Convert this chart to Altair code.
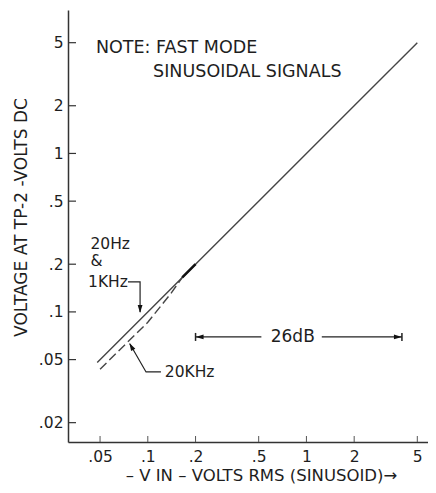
import altair as alt
import pandas as pd

# ---------------- data ----------------
# 20 Hz & 1 kHz response (solid)
solid_x = [0.048, 0.1, 0.2, 0.5, 1.0, 2.0, 5.0]
solid_y = [0.048, 0.1, 0.2, 0.5, 1.0, 2.0, 5.0]
# 20 kHz response (dashed, merges with the solid line near .17)
khz20_x = [0.05, 0.1, 0.14, 0.165]
khz20_y = [0.0435, 0.086, 0.131, 0.165]
# darker overlap segment
overlap_x = [0.165, 0.2]
overlap_y = [0.165, 0.2]

x_ticks = [0.05, 0.1, 0.2, 0.5, 1, 2, 5]
x_tick_labels = [".05", ".1", ".2", ".5", "1", "2", "5"]
y_ticks = [0.02, 0.05, 0.1, 0.2, 0.5, 1, 2, 5]
y_tick_labels = [".02", ".05", ".1", ".2", ".5", "1", "2", "5"]

x_domain = [0.0314, 5.84]
y_domain = [0.0151, 8.04]

x_title = "– V IN – VOLTS RMS (SINUSOID)→"
y_title = "VOLTAGE AT TP-2 -VOLTS DC"

note_text = ["NOTE: FAST MODE", "SINUSOIDAL SIGNALS"]
note_x = [0.0471, 0.108]
note_y = [4.65, 3.28]

ann_text = ["20Hz", "&", "1KHz", "20KHz"]
ann_x = [0.0435, 0.0435, 0.042, 0.128]
ann_y = [0.2685, 0.2096, 0.1546, 0.0418]

db_text = ["26dB"]
db_x = [0.82]
db_y = [0.0695]

# leader / dimension lines
lead_seg = ["1k", "1k", "1k", "20k", "20k", "20k", "dbL", "dbL", "dbR", "dbR"]
lead_x = [0.075, 0.0894, 0.0894, 0.121, 0.0975, 0.0770, 0.2, 0.52, 1.25, 4.0]
lead_y = [0.1546, 0.1546, 0.100, 0.0418, 0.0418, 0.0630, 0.0695, 0.0695, 0.0695, 0.0695]

# arrow tips (x, y, direction in degrees)
head_x = [0.0894, 0.0765, 0.2, 4.0]
head_y = [0.0985, 0.0637, 0.0695, 0.0695]
head_dir = [270, 61, 0, 180]

bar_x = [0.2, 4.0]
bar_y = [0.0695, 0.0695]

# ---------------- styling ----------------
FONT = "DejaVu Sans"
TXT = "#1e1e1e"
LINE = "#454545"


def expr_for(values, labels):
    parts = [f"abs(datum.value - {v}) < 1e-9 ? '{l}'" for v, l in zip(values, labels)]
    return " : ".join(parts) + " : ''"


xscale = alt.Scale(type="log", domain=x_domain, nice=False, zero=False)
yscale = alt.Scale(type="log", domain=y_domain, nice=False, zero=False)

xaxis = alt.Axis(
    values=x_ticks, labelExpr=expr_for(x_ticks, x_tick_labels),
    ticks=False, tickSize=0, grid=False,
    domainColor="#333333", domainWidth=1.5,
    labelFont=FONT, labelFontSize=15.5, labelColor=TXT, labelPadding=7,
    labelFlush=False, labelOverlap=False,
    titleFont=FONT, titleFontSize=16.5, titleFontWeight="normal", titleColor=TXT,
    titleX=193, titleY=33, titleAlign="center", titleBaseline="middle",
)
yaxis = alt.Axis(
    values=y_ticks, labelExpr=expr_for(y_ticks, y_tick_labels),
    ticks=False, tickSize=0, grid=False,
    domainColor="#333333", domainWidth=1.5,
    labelFont=FONT, labelFontSize=15.5, labelColor=TXT, labelPadding=5,
    labelFlush=False, labelOverlap=False,
    titleFont=FONT, titleFontSize=17, titleFontWeight="normal", titleColor=TXT,
    titleAngle=270, titleX=-47, titleY=207, titleAlign="center", titleBaseline="middle",
)


def X():
    return alt.X("x:Q", scale=xscale, axis=xaxis, title=x_title)


def Y():
    return alt.Y("y:Q", scale=yscale, axis=yaxis, title=y_title)


solid_df = pd.DataFrame({"x": solid_x, "y": solid_y})
dash_df = pd.DataFrame({"x": khz20_x, "y": khz20_y})
over_df = pd.DataFrame({"x": overlap_x, "y": overlap_y})
note_df = pd.DataFrame({"x": note_x, "y": note_y, "t": note_text})
ann_df = pd.DataFrame({"x": ann_x, "y": ann_y, "t": ann_text})
db_df = pd.DataFrame({"x": db_x, "y": db_y, "t": db_text})
lead_df = pd.DataFrame({"x": lead_x, "y": lead_y, "seg": lead_seg, "o": list(range(len(lead_x)))})
head_df = pd.DataFrame({"x": head_x, "y": head_y, "a": head_dir})
bar_df = pd.DataFrame({"x": bar_x, "y": bar_y})
xt_df = pd.DataFrame({"x": x_ticks})
yt_df = pd.DataFrame({"y": y_ticks})

solid = alt.Chart(solid_df).mark_line(color=LINE, strokeWidth=1.4).encode(x=X(), y=Y())
dashed = alt.Chart(dash_df).mark_line(color=LINE, strokeWidth=1.4, strokeDash=[9, 4]).encode(x=X(), y=Y())
over = alt.Chart(over_df).mark_line(color="#111111", strokeWidth=2.6).encode(x=X(), y=Y())

xt = alt.Chart(xt_df).mark_rule(color="#555555", strokeWidth=1).encode(
    x=X(), y=alt.value(432), y2=alt.value(426))
yt = alt.Chart(yt_df).mark_rule(color="#333333", strokeWidth=1.2).encode(
    y=Y(), x=alt.value(0), x2=alt.value(8))

leaders = alt.Chart(lead_df).mark_line(color="#222222", strokeWidth=1.2).encode(
    x=X(), y=Y(), detail="seg:N", order="o:Q")
heads = alt.Chart(head_df).mark_point(
    shape="M0,0L2,-0.6L2,0.6Z", filled=True, size=64, color="#111111", opacity=1
).encode(x=X(), y=Y(), angle=alt.Angle("a:Q", scale=None))
bars = alt.Chart(bar_df).mark_point(
    shape="M0,-1L0,1", filled=False, size=64, color="#222222", strokeWidth=1.5, opacity=1
).encode(x=X(), y=Y())

notes = alt.Chart(note_df).mark_text(
    align="left", baseline="middle", font=FONT, fontSize=17.5, color=TXT
).encode(x=X(), y=Y(), text="t:N")
anns = alt.Chart(ann_df).mark_text(
    align="left", baseline="middle", font=FONT, fontSize=15.5, color=TXT
).encode(x=X(), y=Y(), text="t:N")
dbtxt = alt.Chart(db_df).mark_text(
    align="center", baseline="middle", font=FONT, fontSize=17, color=TXT
).encode(x=X(), y=Y(), text="t:N")

chart = alt.layer(
    solid, dashed, over, xt, yt, leaders, heads, bars, notes, anns, dbtxt
).properties(
    width=360, height=432,
    autosize=alt.AutoSizeParams(type="none"),
    padding={"left": 60, "top": 2, "right": 0, "bottom": 43},
    background="white",
).configure_view(stroke=None)

chart.save("out.html", embed_options={"renderer": "svg", "actions": False})
